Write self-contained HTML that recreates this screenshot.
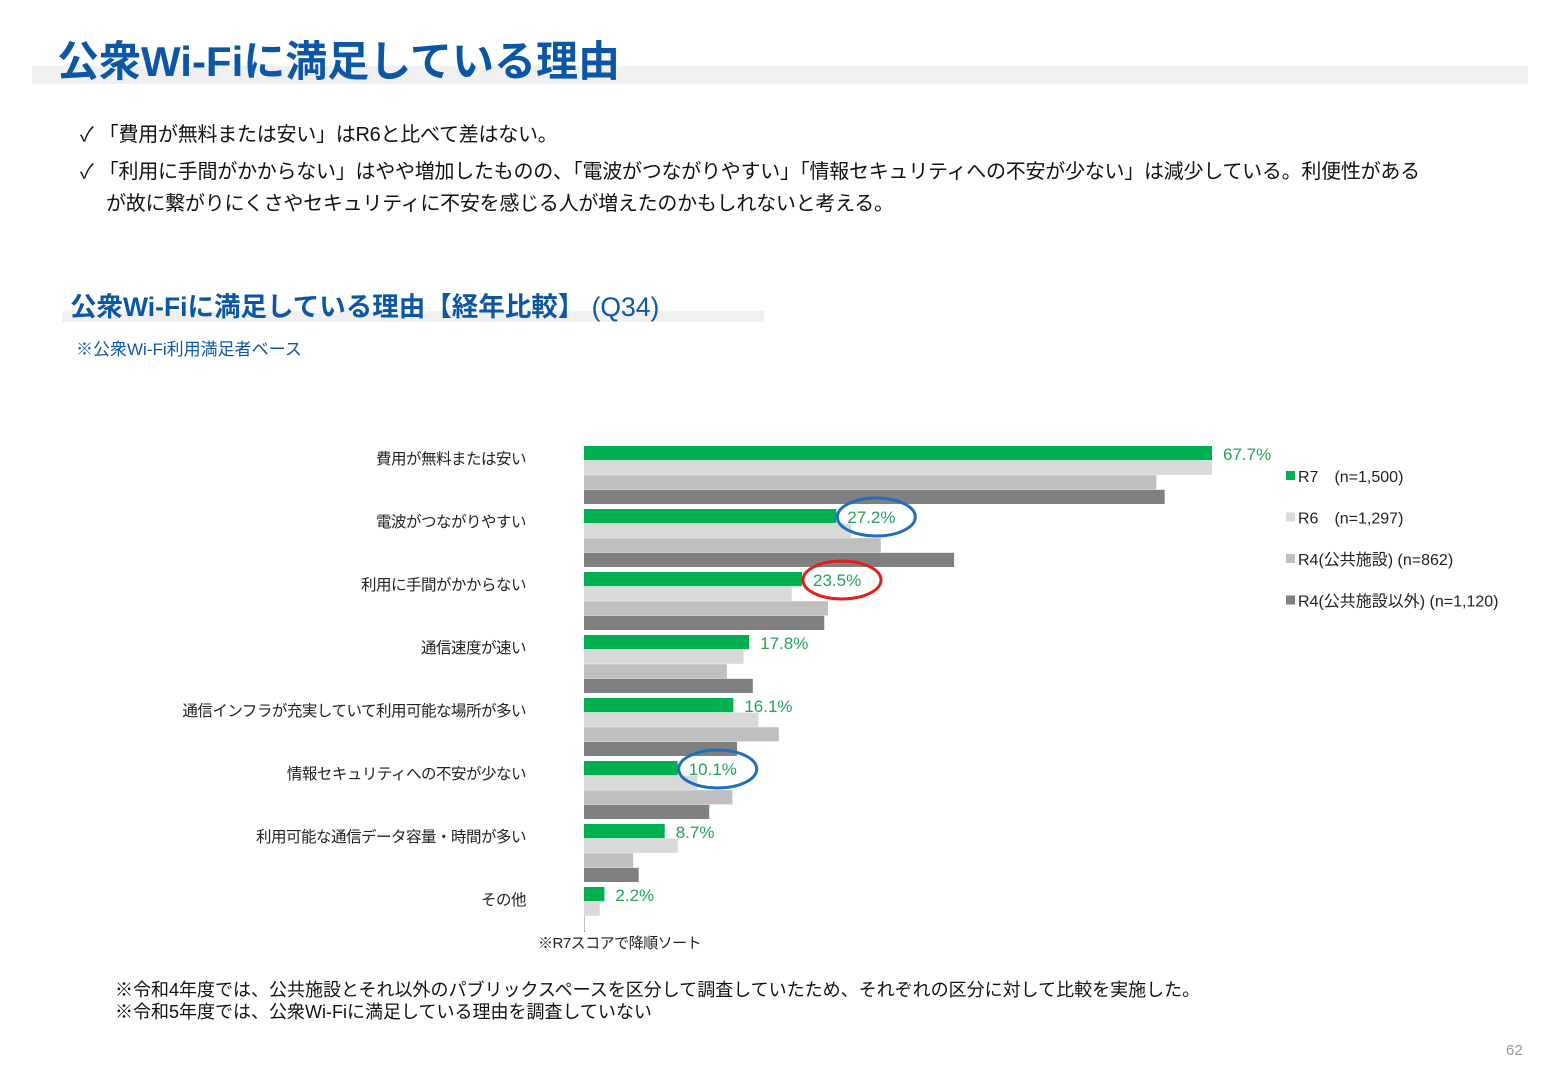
<!DOCTYPE html>
<html><head><meta charset="utf-8">
<style>
body{margin:0;width:1560px;height:1080px;background:#fff;position:relative;overflow:hidden;font-family:"Liberation Sans","Noto Sans CJK JP",sans-serif;}
.abs{position:absolute;white-space:nowrap;}
</style></head><body>
<div class="abs" style="left:32px;top:66px;width:1496px;height:18px;background:#f0f0f0;"></div>
<div class="abs" style="left:57px;top:28px;font-size:42px;font-weight:bold;color:#0b57a6;letter-spacing:0px;">公衆Wi-Fiに満足している理由</div>
<div class="abs" style="left:80px;top:118px;font-size:20px;letter-spacing:-0.25px;color:#111;">✓ 「費用が無料または安い」はR6と比べて差はない。</div>
<div class="abs" style="left:80px;top:156px;font-size:20px;letter-spacing:-0.25px;color:#111;line-height:32px;">✓ 「利用に手間がかからない」はやや増加したものの、「電波がつながりやすい」「情報セキュリティへの不安が少ない」は減少している。利便性がある<br><span style="padding-left:26px">が故に繋がりにくさやセキュリティに不安を感じる人が増えたのかもしれないと考える。</span></div>
<div class="abs" style="left:62px;top:311px;width:702px;height:11px;background:#f0f0f0;"></div>
<div class="abs" style="left:70px;top:285px;font-size:26.5px;color:#0b57a6;"><b>公衆Wi-Fiに満足している理由【経年比較】</b> (Q34)</div>
<div class="abs" style="left:76px;top:335px;font-size:17px;color:#0b57a6;">※公衆Wi-Fi利用満足者ベース</div>
<svg id="chart" width="1560" height="1080" style="position:absolute;left:0;top:0;"></svg>
<div class="abs" style="left:538px;top:932px;font-size:15px;letter-spacing:-0.5px;color:#222;background:#fff;">※R7スコアで降順ソート</div>
<div class="abs" style="left:115px;top:979px;font-size:18px;color:#111;line-height:22px;">※令和4年度では、公共施設とそれ以外のパブリックスペースを区分して調査していたため、それぞれの区分に対して比較を実施した。<br>※令和5年度では、公衆Wi-Fiに満足している理由を調査していない</div>
<div class="abs" style="left:1506px;top:1042px;font-size:15px;color:#999;">62</div>
<script>
const categories=["費用が無料または安い","電波がつながりやすい","利用に手間がかからない","通信速度が速い","通信インフラが充実していて利用可能な場所が多い","情報セキュリティへの不安が少ない","利用可能な通信データ容量・時間が多い","その他"];
const r7=[67.7,27.2,23.5,17.8,16.1,10.1,8.7,2.2];
const r6=[67.7,28.8,22.4,17.2,18.8,12.2,10.1,1.7];
const r4a=[61.7,32.0,26.3,15.4,21.0,16.0,5.3,0.1];
const r4b=[62.6,39.9,25.9,18.2,16.5,13.5,5.9,0.1];
const seriesNames=["R7　(n=1,500)","R6　(n=1,297)","R4(公共施設)  (n=862)","R4(公共施設以外)  (n=1,120)"];
const colors=["#00b050","#d9d9d9","#bfbfbf","#808080"];
const svg=document.getElementById('chart');const NS="http://www.w3.org/2000/svg";
const x0=584,pxPer=9.276,cat0=446,catStep=63,barStep=14.6,barH=14.2;
const xs=v=>v*pxPer;
function el(t,a){const e=document.createElementNS(NS,t);for(const k in a)e.setAttribute(k,a[k]);svg.appendChild(e);return e;}
const all=[r7,r6,r4a,r4b];
categories.forEach((c,i)=>{
 const t=el('text',{x:526,y:cat0+i*catStep+18,'text-anchor':'end','font-size':15.5,'letter-spacing':-0.5,fill:'#222'});
 t.textContent=c;
 
 
 all.forEach((s,j)=>{
  const r=el('rect',{x:x0,y:cat0+i*catStep+j*barStep,width:Math.max(1,xs(s[i])),height:barH,fill:colors[j]});
  
  
 });
 const v=el('text',{x:x0+xs(r7[i])+11,y:cat0+i*catStep+14,'font-size':17,fill:'#22a35a'});
 v.textContent=r7[i].toFixed(1)+'%';
 
 
});
[[1,'#1f6fbf'],[2,'#e0201c'],[5,'#1f6fbf']].forEach(([i,col])=>{
 const e=el('ellipse',{cx:x0+xs(r7[i])+40,cy:cat0+i*catStep+8,rx:39,ry:19,fill:'none',stroke:col,'stroke-width':3});
 
 
});
seriesNames.forEach((n,j)=>{
 const y=476+j*41.5;
 const r=el('rect',{x:1286,y:y-5,width:9,height:9,fill:colors[j]});
 
 
 const t=el('text',{x:1298,y:y+6,'font-size':16,fill:'#222'});
 t.textContent=n;
 
 
});
</script>
</body></html>
